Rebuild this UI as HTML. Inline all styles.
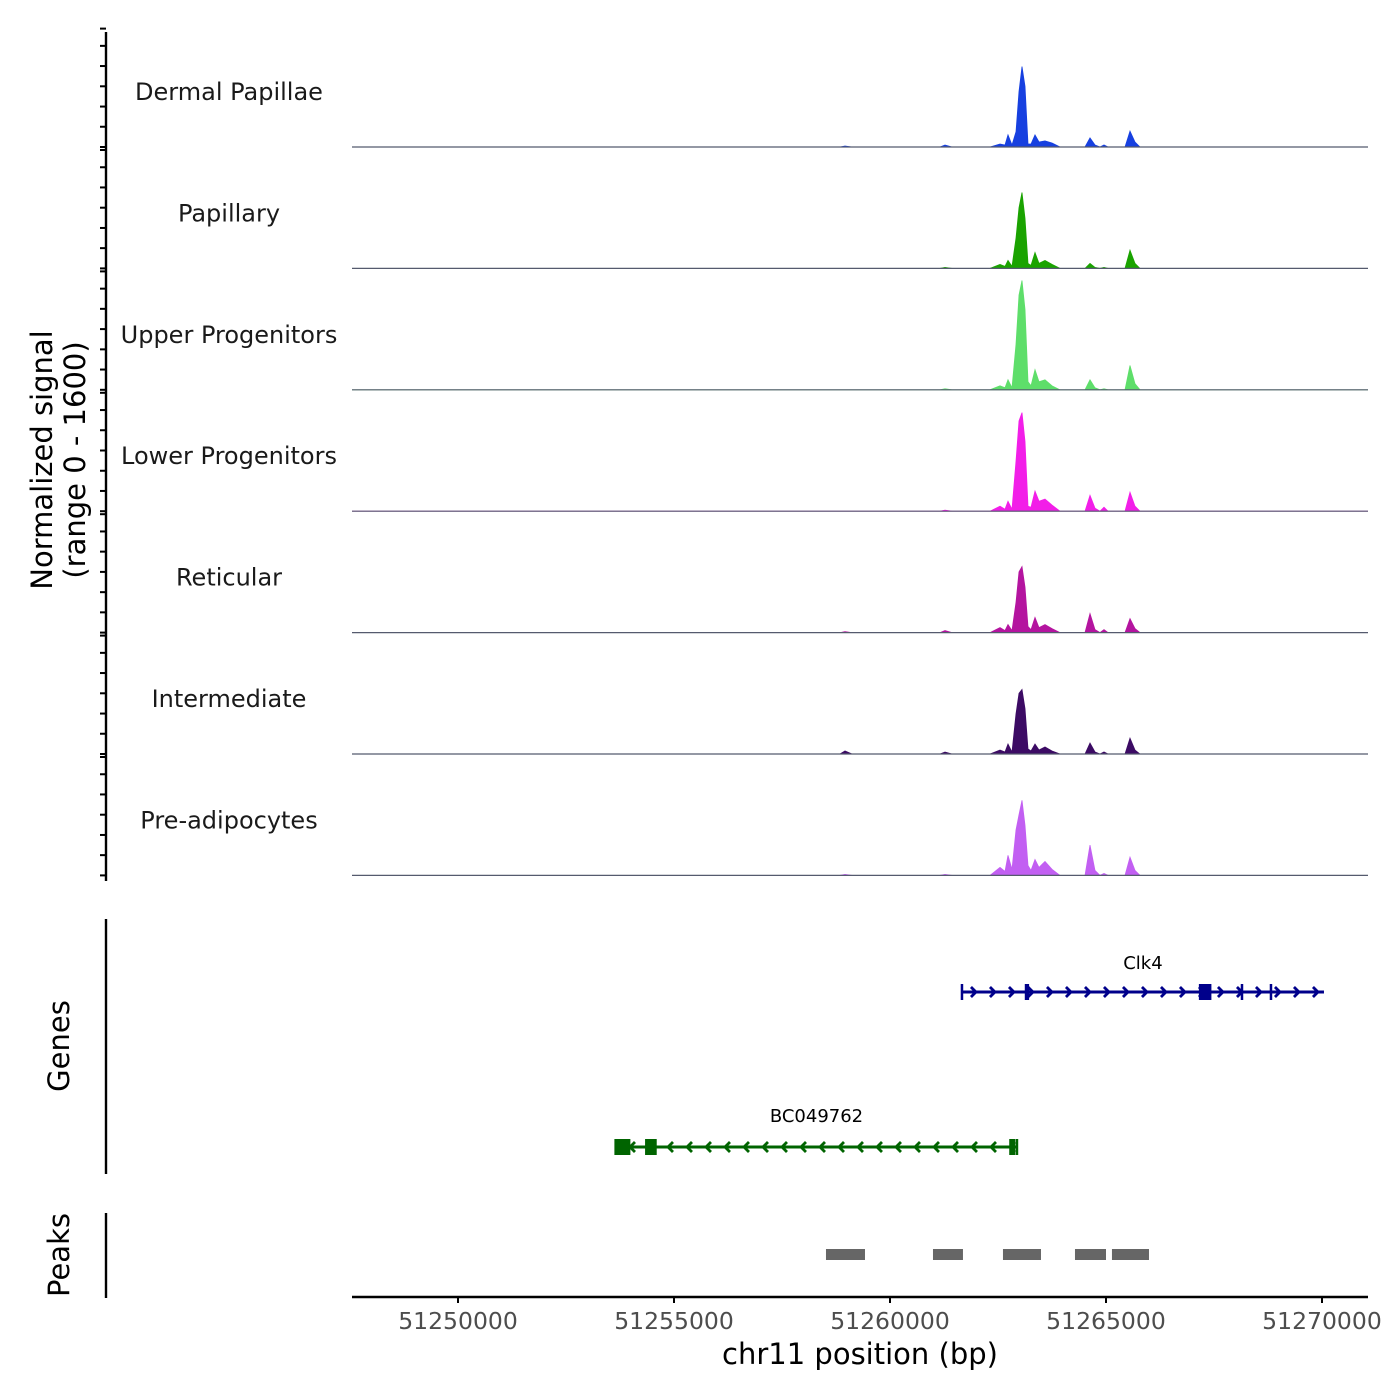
<!DOCTYPE html>
<html><head><meta charset="utf-8"><style>
html,body{margin:0;padding:0;background:#fff;}
svg{display:block;font-family:"DejaVu Sans","Liberation Sans",sans-serif;}
</style></head><body>
<svg id="chart" width="1400" height="1400" viewBox="0 0 1400 1400"></svg>
<script>
const tracks = ["Dermal Papillae","Papillary","Upper Progenitors","Lower Progenitors","Reticular","Intermediate","Pre-adipocytes"];
const trackColors = ["#1740e0","#1aa300","#5ede6a","#f21ee8","#b4149f","#3c0b64","#c25ff2"];
const positions = [51247546,51258842,51258958,51259120,51261157,51261273,51261435,51262315,51262546,51262662,51262731,51262824,51262917,51262986,51263055,51263125,51263194,51263264,51263356,51263449,51263588,51263750,51263935,51264514,51264630,51264745,51264861,51264953,51265046,51265440,51265556,51265671,51265787,51271065];
const valDP   = [0,0,13,0,0,26,0,0,40,26,160,26,200,730,1060,800,40,40,160,66,80,53,0,0,120,26,0,26,0,0,210,66,0,0];
const valPap  = [0,0,0,0,0,13,0,0,53,26,106,26,400,800,1000,660,66,40,210,66,106,53,0,0,66,13,0,13,0,0,240,66,0,0];
const valUp   = [0,0,0,0,0,13,0,0,53,26,132,26,600,1250,1440,1060,106,53,265,106,132,53,0,0,132,26,0,13,0,0,320,80,0,0];
const valLow  = [0,0,0,0,0,13,0,0,66,26,132,26,660,1190,1300,920,66,53,265,132,160,80,0,0,210,40,0,53,0,0,250,66,0,0];
const valRet  = [0,0,13,0,0,26,0,0,66,26,106,26,400,800,870,600,80,40,200,66,106,53,0,0,250,40,0,40,0,0,185,53,0,0];
const valInt  = [0,0,40,0,0,26,0,0,53,26,132,26,530,800,850,600,66,40,132,53,92,40,0,0,145,26,0,26,0,0,210,53,0,0];
const valPre  = [0,0,13,0,0,13,0,0,106,53,265,80,600,800,990,660,132,66,210,106,185,80,0,0,400,66,0,26,0,0,240,66,0,0];
const trackValues = [valDP,valPap,valUp,valLow,valRet,valInt,valPre];
const xTicks = [51250000,51255000,51260000,51265000,51270000];
const yTicks = [0,267,533,800,1067,1333,1600];
const peakStarts = [51258518,51260995,51262615,51264282,51265138];
const peakEnds   = [51259421,51261689,51263495,51265000,51265995];
const clk4 = {name:"Clk4", start:51261666, end:51270046, exons:[[51263120,51263220],[51267150,51267440]], marks:[51261666,51268148,51268819], y:992, label:963, color:"#00008b", dir:1};
const bc = {name:"BC049762", start:51253657, end:51262939, exons:[[51253620,51253990],[51254330,51254600],[51262760,51262900]], marks:[51262939], y:1147, label:1116, color:"#006400", dir:-1};
const genes = [clk4, bc];
const yMax = 1600;

const NS="http://www.w3.org/2000/svg";
const svg=document.getElementById('chart');
const X0=352,X1=1368,B0=51247546,B1=51271065;
const xs=b=>X0+(b-B0)/(B1-B0)*(X1-X0);
const panelH=121.4, base0=147;
function el(tag,attrs,parent){const e=document.createElementNS(NS,tag);for(const k in attrs)e.setAttribute(k,attrs[k]);(parent||svg).appendChild(e);return e;}
function txt(s,attrs){const t=el('text',attrs);t.textContent=s;return t;}

const ax=el('line',{x1:106,y1:32,x2:106,y2:881,stroke:'#000','stroke-width':2.4});


tracks.forEach((name,i)=>{
  const base=base0+i*panelH;
  const ys=v=>base-v/yMax*panelH;
  yTicks.forEach(v=>{
    const tk=el('line',{x1:100,x2:106,y1:ys(v)+(v==1600?3:0),y2:ys(v)+(v==1600?3:0),stroke:'#000','stroke-width':2});
    
    
  });
  const vals=trackValues[i];
  let d='M'+xs(positions[0])+','+base;
  positions.forEach((p,j)=>{d+=' L'+xs(p).toFixed(1)+','+ys(vals[j]).toFixed(1);});
  d+=' L'+xs(positions[positions.length-1])+','+base+' Z';
  const a=el('path',{d:d,fill:trackColors[i],stroke:trackColors[i],'stroke-width':0.8});
  
  
  const bl=el('line',{x1:X0,x2:X1,y1:base,y2:base,stroke:'#555a6e','stroke-width':1.2});
  
  
  const lb=txt(name,{x:229,y:base-47,'font-size':24,'text-anchor':'middle',fill:'#1a1a1a'});
  
  
});
const yt=txt('',{transform:'translate(52,460) rotate(-90)','font-size':29,'text-anchor':'middle',fill:'#000'});


const t1=el('tspan',{x:0,dy:0},yt);t1.textContent='Normalized signal';
const t2=el('tspan',{x:0,dy:33},yt);t2.textContent='(range 0 - 1600)';

const gax=el('line',{x1:106,y1:919,x2:106,y2:1174,stroke:'#000','stroke-width':2.4});


const gt=txt('Genes',{transform:'translate(69,1046) rotate(-90)','font-size':29,'text-anchor':'middle'});


genes.forEach(g=>{
  const grp=el('g',{});
  
  
  const x1=xs(g.start),x2=xs(g.end),y=g.y;
  el('line',{x1:x1,x2:x2,y1:y,y2:y,stroke:g.color,'stroke-width':3},grp);
  for(let x=x1+14;x<x2-4;x+=19){
    const dx=g.dir*5;
    el('polyline',{points:`${x-dx},${y-5} ${x},${y} ${x-dx},${y+5}`,fill:'none',stroke:g.color,'stroke-width':2.8},grp);
  }
  g.exons.forEach(e=>{const a=xs(e[0]),b=xs(e[1]);el('rect',{x:a,y:y-8,width:Math.max(b-a,4),height:16,fill:g.color},grp);});
  g.marks.forEach(m=>el('line',{x1:xs(m),x2:xs(m),y1:y-8,y2:y+8,stroke:g.color,'stroke-width':2.5},grp));
  const lt=txt(g.name,{x:(x1+x2)/2,y:g.label+6,'font-size':18,'text-anchor':'middle',fill:'#000'});
  
  
});

const pax=el('line',{x1:106,y1:1213,x2:106,y2:1298,stroke:'#000','stroke-width':2.4});


const pt=txt('Peaks',{transform:'translate(69,1255) rotate(-90)','font-size':29,'text-anchor':'middle'});


peakStarts.forEach((s,i)=>{
  const r=el('rect',{x:xs(s),y:1249,width:xs(peakEnds[i])-xs(s),height:11,fill:'#666'});
  
  
});

const xa=el('line',{x1:X0,x2:X1,y1:1297,y2:1297,stroke:'#000','stroke-width':2.4});


xTicks.forEach(t=>{
  const tk=el('line',{x1:xs(t),x2:xs(t),y1:1297,y2:1303,stroke:'#000','stroke-width':2});
  
  
  const l=txt(String(t),{x:xs(t),y:1329,'font-size':23.5,'text-anchor':'middle',fill:'#4d4d4d'});
  
  
});
const xt=txt('chr11 position (bp)',{x:860,y:1364,'font-size':29,'text-anchor':'middle',fill:'#000'});


</script>
</body></html>
